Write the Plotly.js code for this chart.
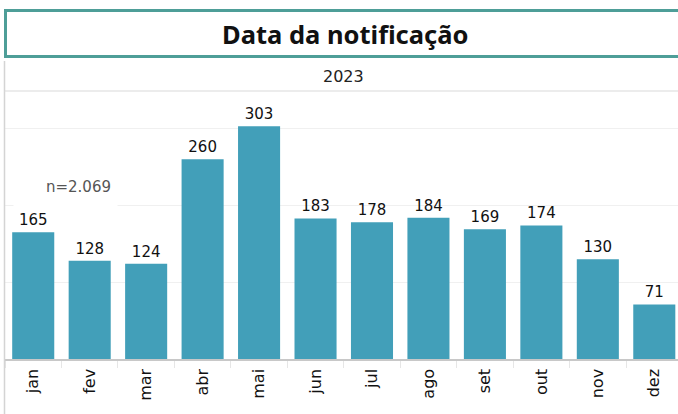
<!DOCTYPE html>
<html>
<head>
<meta charset="utf-8">
<script src="https://cdn.plot.ly/plotly-3.0.1.min.js"></script>
<style>html,body{margin:0;padding:0;background:#fff;}#chart{width:678px;height:414px;}</style>
</head>
<body>
<div id="chart"></div>
<script>
const months = ["jan","fev","mar","abr","mai","jun","jul","ago","set","out","nov","dez"];
const counts = [165,128,124,260,303,183,178,184,169,174,130,71];
const chartTitle = "Data da notificação";
const yearLabel = "2023";
const totalLabel = "n=2.069";

const W = 678, H = 414;
const mL = 5, mR = 0, mT = 91, mB = 55;
const px = (x) => (x - mL) / (W - mL - mR);
const py = (y) => 1 - (y - mT) / (H - mT - mB);

const trace = {
  type: "bar",
  x: months,
  y: counts,
  text: counts.map(String),
  textposition: "outside",
  cliponaxis: false,
  textfont: {family: "DejaVu Sans", size: 15, color: "#111"},
  marker: {color: "#429fb9"},
  width: 0.745,
  hoverinfo: "x+y"
};

const layout = {
  width: W, height: H,
  margin: {l: mL, r: mR, t: mT, b: mB, pad: 0},
  paper_bgcolor: "#fff",
  plot_bgcolor: "#fff",
  showlegend: false,
  font: {family: "DejaVu Sans", color: "#111"},
  xaxis: {
    type: "category",
    range: [-0.5, 11.42],
    tickangle: -90,
    tickfont: {family: "DejaVu Sans", size: 16, color: "#111"},
    ticks: "outside",
    tickson: "boundaries",
    ticklen: 7,
    tickcolor: "#e6e6e6",
    ticklabelstandoff: 2,
    showline: true,
    linecolor: "#c8c8c8",
    linewidth: 1.5,
    showgrid: false,
    zeroline: false,
    fixedrange: true
  },
  yaxis: {
    range: [0, 349],
    tickvals: [100, 200, 300],
    showticklabels: false,
    showgrid: true,
    gridcolor: "#f0f0f0",
    gridwidth: 1,
    zeroline: false,
    showline: false,
    fixedrange: true
  },
  shapes: [
    {type: "rect", xref: "paper", yref: "paper",
     x0: px(5.5), x1: px(690), y0: py(10.5), y1: py(56.5),
     line: {color: "#4e9e98", width: 3}, fillcolor: "rgba(0,0,0,0)", layer: "above"},
    {type: "line", xref: "paper", yref: "paper",
     x0: px(4.5), x1: px(4.5), y0: py(61), y1: py(414),
     line: {color: "#d4d4d4", width: 1.5}},
    {type: "line", xref: "paper", yref: "paper",
     x0: px(4.5), x1: px(678), y0: py(91), y1: py(91),
     line: {color: "#d9d9d9", width: 1}}
  ],
  annotations: [
    {text: "<b>" + chartTitle + "</b>", xref: "paper", yref: "paper",
     x: px(345), y: py(34), xanchor: "center", yanchor: "middle",
     showarrow: false, font: {family: "Noto Sans", size: 25.5, color: "#111"}},
    {text: yearLabel, xref: "paper", yref: "paper",
     x: px(343), y: py(77), xanchor: "center", yanchor: "middle",
     showarrow: false, font: {family: "DejaVu Sans", size: 16, color: "#222"}},
    {text: totalLabel, xref: "paper", yref: "paper",
     x: px(65.5), y: py(187), xanchor: "center", yanchor: "middle",
     showarrow: false, bgcolor: "#ffffff", borderpad: 6, align: "right",
     width: 91, height: 32,
     font: {family: "DejaVu Sans", size: 15, color: "#555"}}
  ]
};

Plotly.newPlot("chart", [trace], layout, {displayModeBar: false, staticPlot: true});
</script>
</body>
</html>
